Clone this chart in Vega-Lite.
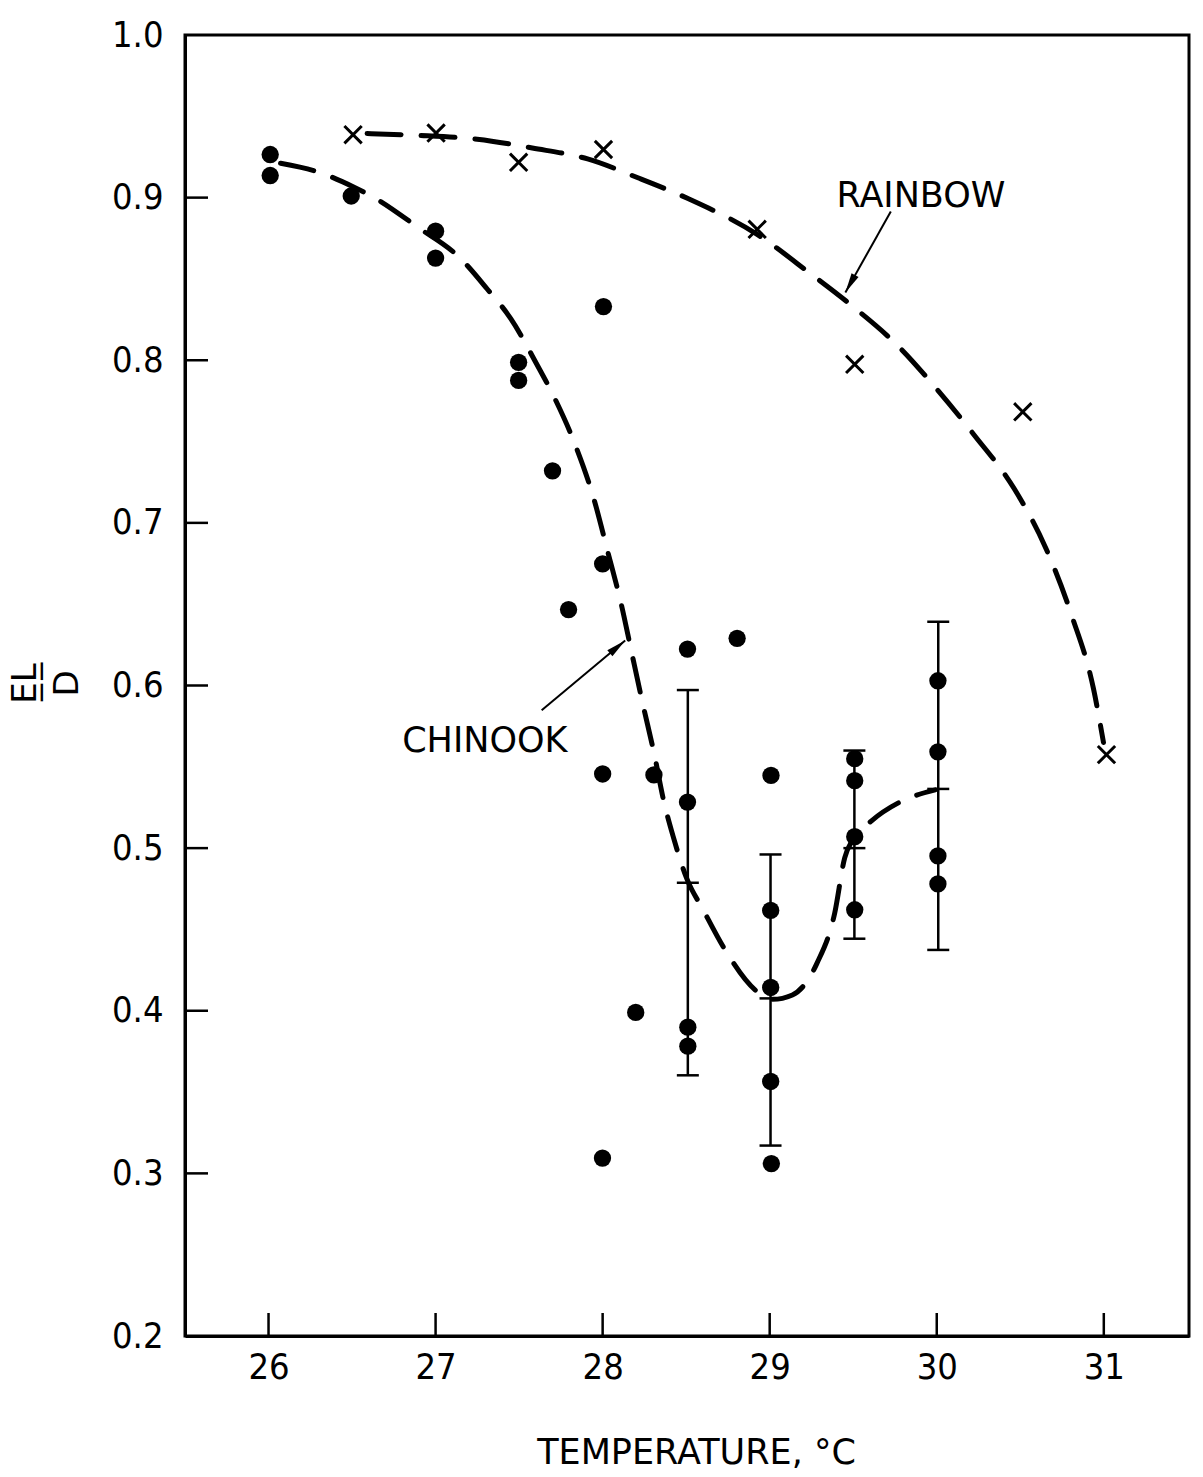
{
  "$schema": "https://vega.github.io/schema/vega-lite/v6.json",
  "width": 1004,
  "height": 1301,
  "autosize": {"type": "none"},
  "padding": {"left": 185, "top": 35, "right": 14, "bottom": 141},
  "background": "white",
  "config": {
    "view": {"stroke": "black", "strokeWidth": 3},
    "axis": {
      "grid": false,
      "domainColor": "black",
      "domainWidth": 3,
      "ticks": false,
      "labelColor": "black",
      "labelFont": "DejaVu Sans Condensed, Liberation Sans Narrow, DejaVu Sans",
      "labelFontSize": 36,
      "titleColor": "black",
      "titleFont": "DejaVu Sans",
      "titleFontWeight": "normal"
    }
  },
  "datasets": {
    "chinook": [
      {"t": 26.01, "eld": 0.9265}, {"t": 26.01, "eld": 0.9136}, {"t": 26.495, "eld": 0.901},
      {"t": 27.0, "eld": 0.8794}, {"t": 27.0, "eld": 0.8628}, {"t": 28.005, "eld": 0.833},
      {"t": 27.497, "eld": 0.7987}, {"t": 27.497, "eld": 0.7876}, {"t": 27.7, "eld": 0.732},
      {"t": 27.796, "eld": 0.6467}, {"t": 28.0, "eld": 0.6748}, {"t": 28.508, "eld": 0.6224},
      {"t": 28.805, "eld": 0.629}, {"t": 28.0, "eld": 0.5456}, {"t": 28.307, "eld": 0.545},
      {"t": 29.008, "eld": 0.5447}, {"t": 28.508, "eld": 0.5283}, {"t": 28.51, "eld": 0.3899},
      {"t": 28.51, "eld": 0.3782}, {"t": 29.006, "eld": 0.4617}, {"t": 29.006, "eld": 0.4143},
      {"t": 29.006, "eld": 0.3565}, {"t": 29.01, "eld": 0.306}, {"t": 29.509, "eld": 0.555},
      {"t": 29.509, "eld": 0.5415}, {"t": 29.509, "eld": 0.507}, {"t": 29.509, "eld": 0.4621},
      {"t": 30.007, "eld": 0.6029}, {"t": 30.007, "eld": 0.5592}, {"t": 30.007, "eld": 0.4952},
      {"t": 30.007, "eld": 0.478}, {"t": 28.198, "eld": 0.399}, {"t": 27.999, "eld": 0.3094}
    ],
    "rainbow": [
      {"t": 26.506, "eld": 0.9387}, {"t": 27.003, "eld": 0.9397}, {"t": 27.497, "eld": 0.9217},
      {"t": 28.005, "eld": 0.9296}, {"t": 28.925, "eld": 0.8805}, {"t": 29.509, "eld": 0.7975},
      {"t": 30.515, "eld": 0.7683}, {"t": 31.016, "eld": 0.5575}
    ],
    "rainbowCurve": [
      {"t": 26.59, "eld": 0.9394}, {"t": 26.889, "eld": 0.9383}, {"t": 27.249, "eld": 0.9359},
      {"t": 27.579, "eld": 0.9305}, {"t": 27.91, "eld": 0.9238}, {"t": 28.211, "eld": 0.9122},
      {"t": 28.514, "eld": 0.8993}, {"t": 28.925, "eld": 0.8774}, {"t": 29.241, "eld": 0.8535},
      {"t": 29.49, "eld": 0.8337}, {"t": 29.771, "eld": 0.8085}, {"t": 29.998, "eld": 0.7825},
      {"t": 30.219, "eld": 0.7547}, {"t": 30.465, "eld": 0.7208}, {"t": 30.651, "eld": 0.6849},
      {"t": 30.809, "eld": 0.6427}, {"t": 30.938, "eld": 0.5981}, {"t": 30.998, "eld": 0.565}
    ],
    "chinookCurve": [
      {"t": 26.072, "eld": 0.9211}, {"t": 26.307, "eld": 0.9154}, {"t": 26.506, "eld": 0.9067},
      {"t": 26.639, "eld": 0.8996}, {"t": 26.888, "eld": 0.8822}, {"t": 27.15, "eld": 0.8625},
      {"t": 27.309, "eld": 0.8438}, {"t": 27.45, "eld": 0.8256}, {"t": 27.605, "eld": 0.7977},
      {"t": 27.717, "eld": 0.7758}, {"t": 27.83, "eld": 0.7495}, {"t": 27.951, "eld": 0.7135},
      {"t": 28.029, "eld": 0.6829}, {"t": 28.113, "eld": 0.6493}, {"t": 28.172, "eld": 0.6211},
      {"t": 28.238, "eld": 0.5898}, {"t": 28.311, "eld": 0.5568}, {"t": 28.364, "eld": 0.5298},
      {"t": 28.422, "eld": 0.5072}, {"t": 28.505, "eld": 0.4809}, {"t": 28.599, "eld": 0.4626},
      {"t": 28.735, "eld": 0.4371}, {"t": 28.92, "eld": 0.4122}, {"t": 29.017, "eld": 0.407},
      {"t": 29.136, "eld": 0.4097}, {"t": 29.282, "eld": 0.429}, {"t": 29.389, "eld": 0.46},
      {"t": 29.449, "eld": 0.494}, {"t": 29.5, "eld": 0.5058}, {"t": 29.606, "eld": 0.5165},
      {"t": 29.783, "eld": 0.5285}, {"t": 29.991, "eld": 0.5358}
    ],
    "errorbars": [
      {"t": 28.51, "lo": 0.3603, "hi": 0.5972, "mean": 0.4787},
      {"t": 29.005, "lo": 0.3171, "hi": 0.4961, "mean": 0.4076},
      {"t": 29.507, "lo": 0.4443, "hi": 0.56, "mean": 0.5},
      {"t": 30.009, "lo": 0.4374, "hi": 0.6392, "mean": 0.5364}
    ],
    "arrows": [
      {"arrow": "rainbow", "o": 0, "t": 29.725, "eld": 0.8915},
      {"arrow": "rainbow", "o": 1, "t": 29.453, "eld": 0.8416},
      {"arrow": "chinook", "o": 0, "t": 27.635, "eld": 0.5848},
      {"arrow": "chinook", "o": 1, "t": 28.135, "eld": 0.6277}
    ],
    "labels": [
      {"label": "RAINBOW", "t": 29.4, "eld": 0.9012},
      {"label": "CHINOOK", "t": 26.8, "eld": 0.5658}
    ],
    "axisTicksX": [
      {"t": 26, "eld": 0.2}, {"t": 27, "eld": 0.2}, {"t": 28, "eld": 0.2},
      {"t": 29, "eld": 0.2}, {"t": 30, "eld": 0.2}, {"t": 31, "eld": 0.2}
    ],
    "axisTicksY": [
      {"t": 25.5, "eld": 0.3}, {"t": 25.5, "eld": 0.4}, {"t": 25.5, "eld": 0.5}, {"t": 25.5, "eld": 0.6},
      {"t": 25.5, "eld": 0.7}, {"t": 25.5, "eld": 0.8}, {"t": 25.5, "eld": 0.9}
    ]
  },
  "encoding": {
    "x": {
      "field": "t", "type": "quantitative",
      "scale": {"domain": [25.5, 31.51], "nice": false, "zero": false},
      "axis": {
        "values": [26, 27, 28, 29, 30, 31], "format": "d", "labelPadding": 14,
        "title": "TEMPERATURE,  \u00b0C", "titleFontSize": 35,
        "titleX": 511, "titleY": 127, "titleAlign": "center", "titleBaseline": "alphabetic"
      }
    },
    "y": {
      "field": "eld", "type": "quantitative",
      "scale": {"domain": [0.2, 1.0], "nice": false, "zero": false},
      "axis": {
        "values": [0.2, 0.3, 0.4, 0.5, 0.6, 0.7, 0.8, 0.9, 1.0], "format": ".1f", "labelPadding": 22,
        "title": ["E\u0332L\u0332", "D"], "titleFontSize": 34, "titleLineHeight": 42,
        "titleAngle": -90, "titleX": -160, "titleY": 648, "titleAlign": "center", "titleBaseline": "middle"
      }
    }
  },
  "layer": [
    {
      "data": {"name": "axisTicksX"},
      "mark": {"type": "point", "shape": "M0,0L0,-2", "filled": false, "color": "black", "strokeWidth": 2.5, "size": 529, "opacity": 1}
    },
    {
      "data": {"name": "axisTicksY"},
      "mark": {"type": "point", "shape": "M0,0L2,0", "filled": false, "color": "black", "strokeWidth": 2.5, "size": 529, "opacity": 1}
    },
    {
      "data": {"name": "rainbowCurve"},
      "mark": {"type": "line", "color": "black", "strokeWidth": 5, "strokeDash": [34, 20], "strokeCap": "round", "interpolate": "monotone"},
      "encoding": {}
    },
    {
      "data": {"name": "chinookCurve"},
      "mark": {"type": "line", "color": "black", "strokeWidth": 5, "strokeDash": [34, 20], "strokeCap": "round", "interpolate": "monotone"},
      "encoding": {}
    },
    {
      "data": {"name": "errorbars"},
      "mark": {"type": "rule", "color": "black", "strokeWidth": 2.5},
      "encoding": {"y": {"field": "lo", "type": "quantitative"}, "y2": {"field": "hi"}}
    },
    {
      "data": {"name": "errorbars"},
      "mark": {"type": "tick", "orient": "horizontal", "color": "black", "size": 22, "thickness": 2.5, "opacity": 1},
      "encoding": {"y": {"field": "lo", "type": "quantitative"}}
    },
    {
      "data": {"name": "errorbars"},
      "mark": {"type": "tick", "orient": "horizontal", "color": "black", "size": 22, "thickness": 2.5, "opacity": 1},
      "encoding": {"y": {"field": "hi", "type": "quantitative"}}
    },
    {
      "data": {"name": "errorbars"},
      "mark": {"type": "tick", "orient": "horizontal", "color": "black", "size": 22, "thickness": 2.5, "opacity": 1},
      "encoding": {"y": {"field": "mean", "type": "quantitative"}}
    },
    {
      "data": {"name": "chinook"},
      "mark": {"type": "point", "shape": "circle", "filled": true, "color": "black", "size": 300, "opacity": 1}
    },
    {
      "data": {"name": "rainbow"},
      "mark": {"type": "point", "shape": "M-1,-1L1,1M-1,1L1,-1", "filled": false, "color": "black", "strokeWidth": 3, "size": 300, "opacity": 1}
    },
    {
      "data": {"name": "arrows"},
      "mark": {"type": "line", "color": "black", "strokeWidth": 2},
      "encoding": {"detail": {"field": "arrow"}, "order": {"field": "o", "type": "quantitative"}}
    },
    {
      "data": {"name": "arrows"},
      "transform": [{"filter": "datum.arrow == 'rainbow' && datum.o == 1"}],
      "mark": {"type": "point", "shape": "M0,0L0.32,1.6L-0.32,1.6Z", "filled": true, "color": "black", "size": 625, "angle": 209, "opacity": 1}
    },
    {
      "data": {"name": "arrows"},
      "transform": [{"filter": "datum.arrow == 'chinook' && datum.o == 1"}],
      "mark": {"type": "point", "shape": "M0,0L0.32,1.6L-0.32,1.6Z", "filled": true, "color": "black", "size": 625, "angle": 50, "opacity": 1}
    },
    {
      "data": {"name": "labels"},
      "mark": {"type": "text", "align": "left", "baseline": "middle", "font": "DejaVu Sans", "fontSize": 35, "color": "black"},
      "encoding": {"text": {"field": "label"}}
    }
  ]
}
